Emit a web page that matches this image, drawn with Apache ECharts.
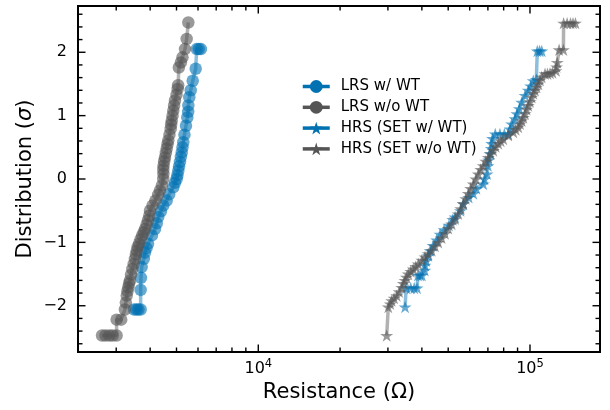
<!DOCTYPE html>
<html><head><meta charset="utf-8">
<script src="https://cdn.jsdelivr.net/npm/echarts@6/dist/echarts.min.js"></script>
<style>html,body{margin:0;padding:0;background:#fff}#c{width:610px;height:410px}</style>
</head><body><div id="c"></div>
<script>
const seriesNames = ['LRS w/ WT', 'LRS w/o WT', 'HRS (SET w/ WT)', 'HRS (SET w/o WT)'];

// [resistance (Ohm), sigma]
const lrsWithWT = [[3490,-2.06],[3560,-2.06],[3620,-2.06],[3690,-2.06],[3690,-1.75],[3700,-1.56],[3722,-1.39],[3790,-1.26],[3828,-1.16],[3880,-1.09],[3930,-1.02],[4060,-0.89],[4167,-0.79],[4230,-0.70],[4285,-0.60],[4380,-0.51],[4470,-0.42],[4602,-0.34],[4700,-0.24],[4866,-0.13],[4936,-0.06],[5008,0.00],[5040,0.06],[5077,0.13],[5110,0.20],[5150,0.27],[5190,0.35],[5226,0.42],[5260,0.50],[5297,0.58],[5350,0.70],[5419,0.84],[5480,0.97],[5520,1.06],[5527,1.16],[5572,1.29],[5640,1.40],[5737,1.55],[5883,1.74],[5934,2.05],[6040,2.05],[6150,2.05]];

const lrsWithoutWT = [[2660,-2.47],[2740,-2.47],[2830,-2.47],[2910,-2.47],[3010,-2.47],[3010,-2.22],[3130,-2.22],[3230,-2.06],[3255,-1.95],[3280,-1.84],[3300,-1.77],[3323,-1.71],[3345,-1.65],[3371,-1.60],[3400,-1.51],[3440,-1.42],[3480,-1.34],[3517,-1.26],[3545,-1.19],[3570,-1.13],[3600,-1.07],[3640,-1.02],[3690,-0.95],[3740,-0.89],[3790,-0.84],[3830,-0.79],[3880,-0.72],[3930,-0.65],[3970,-0.58],[3994,-0.50],[4080,-0.42],[4180,-0.34],[4280,-0.25],[4346,-0.18],[4420,-0.10],[4470,0.00],[4475,0.08],[4470,0.15],[4480,0.21],[4505,0.28],[4536,0.34],[4570,0.41],[4602,0.48],[4635,0.55],[4665,0.61],[4710,0.70],[4760,0.79],[4780,0.86],[4801,0.92],[4835,1.00],[4866,1.08],[4900,1.16],[4936,1.24],[5000,1.33],[5050,1.42],[5070,1.48],[5100,1.76],[5190,1.84],[5260,1.92],[5373,2.05],[5450,2.21],[5527,2.47]];

const hrsWithWT = [[34700,-2.02],[35000,-1.72],[36400,-1.72],[37500,-1.72],[38400,-1.72],[38700,-1.52],[39400,-1.52],[40000,-1.52],[41000,-1.44],[41070,-1.36],[41500,-1.29],[42240,-1.21],[42900,-1.13],[44000,-1.05],[45300,-0.96],[46650,-0.87],[48300,-0.80],[50300,-0.73],[52000,-0.64],[53000,-0.60],[55500,-0.50],[56820,-0.39],[59500,-0.29],[61840,-0.23],[63500,-0.15],[67300,-0.08],[68000,0.00],[69500,0.08],[70000,0.21],[70500,0.30],[71240,0.40],[72000,0.48],[72300,0.56],[72800,0.64],[74500,0.71],[77500,0.71],[80500,0.71],[83200,0.71],[84500,0.79],[85600,0.87],[88070,0.95],[89500,1.03],[91330,1.11],[93200,1.21],[95850,1.32],[98560,1.40],[100500,1.47],[102800,1.55],[105500,1.57],[106400,2.02],[108500,2.02],[110500,2.02]];

const hrsWithoutWT = [[29690,-2.47],[30100,-2.02],[30600,-1.97],[30970,-1.92],[31600,-1.88],[32310,-1.84],[33000,-1.78],[33710,-1.71],[34200,-1.65],[34670,-1.60],[35100,-1.55],[35650,-1.50],[36400,-1.46],[37190,-1.42],[38000,-1.38],[38810,-1.34],[40000,-1.28],[41070,-1.23],[42200,-1.18],[43470,-1.13],[44700,-1.06],[45970,-1.00],[47300,-0.93],[48660,-0.86],[50000,-0.78],[51500,-0.71],[53000,-0.63],[54460,-0.55],[55600,-0.47],[56820,-0.39],[58000,-0.31],[59280,-0.23],[60500,-0.15],[61840,-0.08],[63200,0.00],[64520,0.08],[65900,0.15],[67310,0.21],[68800,0.28],[70230,0.34],[71700,0.40],[73270,0.45],[74800,0.51],[76430,0.56],[78000,0.60],[79740,0.63],[83190,0.69],[86790,0.74],[88600,0.78],[90550,0.82],[91900,0.87],[93200,0.92],[94500,0.97],[95850,1.03],[97200,1.10],[98560,1.16],[100000,1.22],[101500,1.29],[102900,1.35],[104300,1.40],[105800,1.45],[107300,1.50],[108800,1.56],[110400,1.61],[113600,1.66],[116000,1.66],[118500,1.67],[121000,1.68],[124700,1.71],[125300,1.77],[126000,1.84],[128000,2.04],[132700,2.04],[133000,2.46],[137000,2.46],[141000,2.46],[144000,2.46],[147000,2.46]];

const xMajorTicks = [10000, 100000];
const xMinorTicks = [3000,4000,5000,6000,7000,8000,9000,20000,30000,40000,50000,60000,70000,80000,90000];
const yMajorTicks = [-2, -1, 0, 1, 2];
const yMinorTicks = [-2.6,-2.4,-2.2,-1.8,-1.6,-1.4,-1.2,-0.8,-0.6,-0.4,-0.2,0.2,0.4,0.6,0.8,1.2,1.4,1.6,1.8,2.2,2.4,2.6];

const BLUE = '#0072B2', GREY = '#555555';
const FONT = 'DejaVu Sans';
const STAR = 'path://M100,0L122.45,69.1L195.1,69.1L136.33,111.8L158.8,180.9L100,138.2L41.2,180.9L63.67,111.8L4.9,69.1L77.55,69.1Z';

const GL = 78, GR = 600, GT = 6, GB = 352;

function mk(name, data, color, sym, size) {
  return {
    name, type: 'line', data, symbol: sym, symbolSize: size, symbolKeepAspect: true,
    itemStyle: { color, opacity: 0.6 },
    lineStyle: { color, width: 3.5, opacity: 0.45 },
    emphasis: { disabled: true }, animation: false, clip: true
  };
}

const chart = echarts.init(document.getElementById('c'));
chart.setOption({
  animation: false,
  grid: { left: GL, right: 610 - GR, top: GT, bottom: 410 - GB, show: true, borderColor: '#000', borderWidth: 2, backgroundColor: 'transparent' },
  legend: {
    orient: 'vertical', left: 301, top: 79, padding: 0, itemWidth: 27, itemHeight: 16, itemGap: 5.8,
    textStyle: { fontSize: 15, color: '#000', fontFamily: FONT, padding: [0, 0, 0, 6] },
    data: seriesNames,
    itemStyle: { opacity: 1 }, lineStyle: { opacity: 1, width: 3.5 }
  },
  xAxis: {
    type: 'log', logBase: 10, min: 2170, max: 181000,
    axisLine: { show: false }, axisTick: { show: false }, splitLine: { show: false },
    axisLabel: {
      margin: 6,
      formatter: v => {
        const m = xMajorTicks.find(t => Math.abs(t - v) / t < 1e-6);
        return m ? '{b|10}{s|' + Math.round(Math.log10(m)) + '}' : '';
      },
      rich: {
        b: { fontSize: 16, fontFamily: FONT, color: '#000', lineHeight: 22, verticalAlign: 'middle' },
        s: { fontSize: 11.5, fontFamily: FONT, color: '#000', lineHeight: 12, verticalAlign: 'top' }
      }
    },
    name: 'Resistance (Ω)', nameLocation: 'middle', nameGap: 30, nameMoveOverlap: false,
    nameTextStyle: { fontSize: 21, fontFamily: FONT, color: '#000' }
  },
  yAxis: {
    type: 'value', min: -2.73, max: 2.73,
    axisLine: { show: false }, axisTick: { show: false }, splitLine: { show: false },
    axisLabel: { customValues: yMajorTicks, formatter: v => String(v).replace('-', '\u2212'), fontSize: 16, fontFamily: FONT, color: '#000', margin: 11 },
    name: 'Distribution ({i|σ})', nameLocation: 'middle', nameGap: 42, nameMoveOverlap: false,
    nameTextStyle: { fontSize: 21, fontFamily: FONT, color: '#000', rich: { i: { fontStyle: 'italic', fontSize: 21, fontFamily: FONT, color: '#000' } } }
  },
  series: [
    mk(seriesNames[0], lrsWithWT, BLUE, 'circle', 12.5),
    mk(seriesNames[1], lrsWithoutWT, GREY, 'circle', 12.5),
    mk(seriesNames[2], hrsWithWT, BLUE, STAR, 13),
    mk(seriesNames[3], hrsWithoutWT, GREY, STAR, 13)
  ]
});

(function ticks() {
  const g = [];
  const add = (x1, y1, x2, y2) => g.push({ type: 'line', silent: true, z: 100, shape: { x1, y1, x2, y2 }, style: { stroke: '#000', lineWidth: 1.4 } });
  const X = v => chart.convertToPixel({ xAxisIndex: 0 }, v);
  const Y = v => chart.convertToPixel({ yAxisIndex: 0 }, v);
  xMajorTicks.forEach(v => { const x = X(v); add(x, GB, x, GB - 7.5); add(x, GT, x, GT + 7.5); });
  xMinorTicks.forEach(v => { const x = X(v); add(x, GB, x, GB - 4.5); add(x, GT, x, GT + 4.5); });
  yMajorTicks.forEach(v => { const y = Y(v); add(GL, y, GL + 7.5, y); add(GR, y, GR - 7.5, y); });
  yMinorTicks.forEach(v => { const y = Y(v); add(GL, y, GL + 4.5, y); add(GR, y, GR - 4.5, y); });
  chart.setOption({ graphic: g });
})();
</script></body></html>
